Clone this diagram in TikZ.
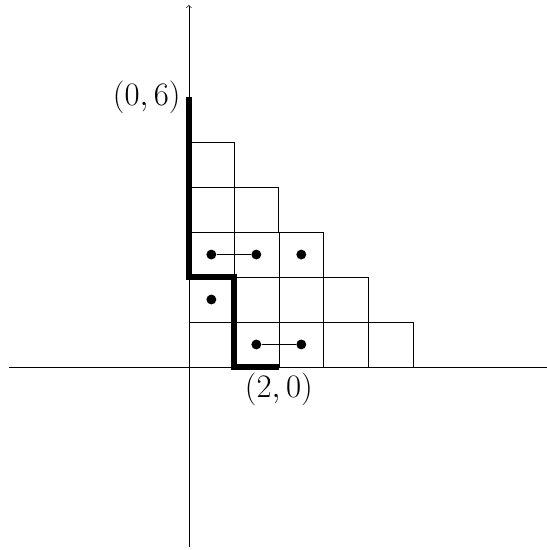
\documentclass[tikz,border=0pt]{standalone}
\usetikzlibrary{positioning}
\tikzset{dot/.style={circle,fill,inner sep=0pt,minimum size=0.22cm}}
\begin{document}
\begin{tikzpicture}
  \useasboundingbox (-4.2,-4.07) rectangle (7.96,8.16);
  \draw (-4,0) -- (8,0);
  \draw[->] (0,-4) -- (0,8.05);
  \foreach \r/\c in {0/5,1/4,2/3,3/2,4/1}
    \draw (0,\r) grid (\c,\r+1);
  \coordinate (top) at (0,6);
  \coordinate (bot) at (2,0);
  \draw[line width=3.6pt] (top) -- (0,2) -- (1,2) -- (1,0) -- (bot);
  \node[left=0.06cm of top,font=\huge] (toplabel) {$(0,6)$};
  \node[below,font=\huge] (botlabel) at (bot) {$(2,0)$};
  \node[dot] (a) at (0.5,2.5) {};
  \node[dot] (b) at (1.5,2.5) {};
  \node[dot] (c) at (2.5,2.5) {};
  \node[dot] (d) at (0.5,1.5) {};
  \node[dot] (e) at (1.5,0.5) {};
  \node[dot] (f) at (2.5,0.5) {};
  \draw (a) -- (b);
  \draw (e) -- (f);
\end{tikzpicture}
\end{document}
